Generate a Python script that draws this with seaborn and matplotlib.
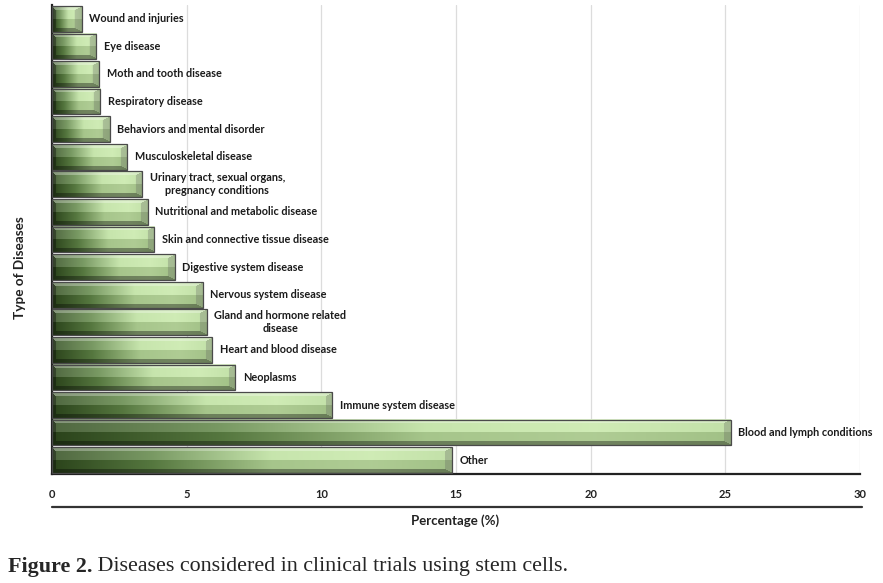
import numpy as np
import pandas as pd
import matplotlib
matplotlib.use("Agg")
import matplotlib.pyplot as plt
import seaborn as sns
from matplotlib.lines import Line2D

# --- data ---
diseases = [
    "Wound and injuries",
    "Eye disease",
    "Moth and tooth disease",
    "Respiratory disease",
    "Behaviors and mental disorder",
    "Musculoskeletal disease",
    "Urinary tract, sexual organs,\npregnancy conditions",
    "Nutritional and metabolic disease",
    "Skin and connective tissue disease",
    "Digestive system disease",
    "Nervous system disease",
    "Gland and hormone related\ndisease",
    "Heart and blood disease",
    "Neoplasms",
    "Immune system disease",
    "Blood and lymph conditions",
    "Other",
]
percentages = [1.1, 1.65, 1.75, 1.8, 2.15, 2.8, 3.35, 3.55, 3.8, 4.55,
               5.6, 5.75, 5.95, 6.8, 10.4, 25.2, 14.85]
x_ticks = [0, 5, 10, 15, 20, 25, 30]

caption_bold = "Figure 2."
caption_text = " Diseases considered in clinical trials using stem cells."

df = pd.DataFrame({"disease": diseases, "pct": percentages})

sns.set_style("white")
plt.rcParams["font.family"] = ["Lato", "DejaVu Sans"]

W_PX, H_PX = 883, 583
fig = plt.figure(figsize=(W_PX / 100, H_PX / 100), dpi=100)
ax = fig.add_axes([52 / W_PX, 1 - 474 / H_PX, (860 - 52) / W_PX, (474 - 5) / H_PX])

sns.barplot(data=df, x="pct", y="disease", orient="h", ax=ax,
            width=0.93, color="#9fc47f", edgecolor="#4a4a4a", linewidth=0.9,
            zorder=3)


def bevel_image(nx, ny):
    """Green gradient with bevelled facets, like the Excel bar style."""
    t = np.linspace(0, 1, nx)
    stops = [0.0, 0.25, 0.55, 0.8, 1.0]
    cols = np.array([[0.19, 0.30, 0.12],
                     [0.38, 0.53, 0.28],
                     [0.74, 0.88, 0.62],
                     [0.78, 0.91, 0.66],
                     [0.72, 0.86, 0.60]])
    base = np.stack([np.interp(t, stops, cols[:, k]) for k in range(3)], axis=-1)
    img = np.repeat(base[None, :, :], ny, axis=0)

    yy, xx = np.mgrid[0:ny, 0:nx]
    # inner body: lighter upper band, darker lower band
    upper = yy < ny * 0.5
    img[upper] = img[upper] * 0.85 + 0.15
    img[~upper] = img[~upper] * 0.88

    # facets: thin top/bottom/left, wider right end
    d = np.stack([yy / 4.0, (ny - 1 - yy) / 4.0, xx / 4.0, (nx - 1 - xx) / 7.0])
    which = d.argmin(axis=0)
    near = d.min(axis=0) < 1.0
    top = near & (which == 0)
    bot = near & (which == 1)
    lef = near & (which == 2)
    rig = near & (which == 3)
    img[top] = img[top] * 0.7 + 0.3
    img[bot] = img[bot] * 0.65
    img[lef] = img[lef] * 0.65
    img[rig] = img[rig] * 0.72 + 0.1
    return np.clip(img, 0, 1)


px_per_unit = (860 - 52) / 30.0
for patch in ax.patches:
    x0, y0 = patch.get_x(), patch.get_y()
    w, h = patch.get_width(), patch.get_height()
    nx = max(int(w * px_per_unit), 12)
    ny = 26
    ax.imshow(bevel_image(nx, ny), extent=(x0, x0 + w, y0 + h, y0),
              aspect="auto", interpolation="bilinear", zorder=2)
    patch.set_facecolor("none")

# labels right of each bar
for i, (name, val) in enumerate(zip(diseases, percentages)):
    ax.text(val + 0.28, i, name, ha="left", va="center", multialignment="center",
            fontsize=7.8, fontweight="bold", color="#1a1a1a", zorder=4)

ax.set_xlim(0, 30)
ax.set_ylim(len(diseases) - 0.5, -0.5)
ax.set_xticks(x_ticks)
ax.set_xticklabels([str(v) for v in x_ticks], fontsize=8, fontweight="bold",
                   color="#222222")
ax.set_yticks(np.arange(-0.5, len(diseases), 1.0))
ax.set_yticklabels([])
ax.tick_params(axis="x", direction="out", length=5, width=1.2, color="#222222", pad=6)
ax.tick_params(axis="y", direction="out", length=4, width=1.2, color="#222222")
ax.grid(axis="x", color="#dcdcdc", linewidth=0.9, zorder=0)
ax.set_axisbelow(True)
ax.set_xlabel("")
ax.set_ylabel("")
for s in ["top", "right"]:
    ax.spines[s].set_visible(False)
for s in ["left", "bottom"]:
    ax.spines[s].set_color("#222222")
    ax.spines[s].set_linewidth(1.6)

# axis titles
fig.add_artist(Line2D([52 / W_PX, 862 / W_PX], [1 - 507 / H_PX, 1 - 507 / H_PX],
                      color="#333333", linewidth=1.6))
fig.text(455 / W_PX, 1 - 521 / H_PX, "Percentage (%)", ha="center", va="center",
         fontsize=9.5, fontweight="bold", color="#222222")
fig.text(20 / W_PX, 1 - 268 / H_PX, "Type of Diseases", ha="center", va="center",
         rotation=90, fontsize=9.8, fontweight="bold", color="#222222")

# caption: bold prefix then regular text
cap_y = 1 - 567 / H_PX
t1 = fig.text(8 / W_PX, cap_y, caption_bold, ha="left", va="center",
              fontsize=15.8, fontweight="bold", family="Liberation Serif")
fig.canvas.draw()
bb = t1.get_window_extent(renderer=fig.canvas.get_renderer())
fig.text(bb.x1 / W_PX, cap_y, caption_text, ha="left", va="center",
         fontsize=15.8, family="Liberation Serif")

fig.savefig("out.png", dpi=100)
